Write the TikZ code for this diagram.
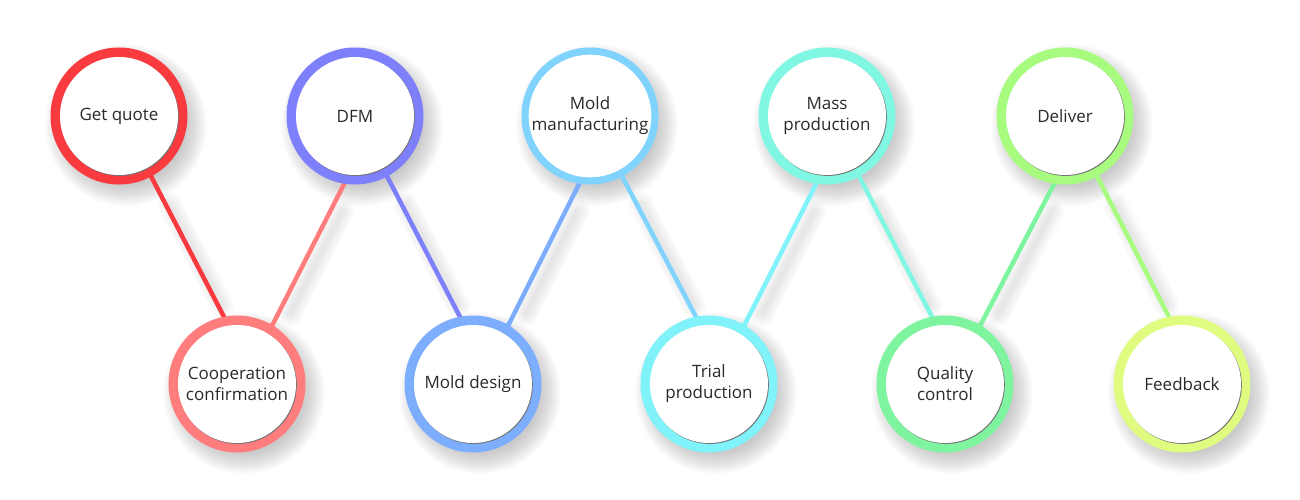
\documentclass[tikz,border=0pt]{standalone}
\usepackage{fontspec}
\setmainfont{Open Sans}
\usetikzlibrary{calc}
\pgfdeclarelayer{shadow}
\pgfdeclarelayer{lines}
\pgfsetlayers{shadow,lines,main}
\definecolor{cA}{HTML}{F93A3F}
\definecolor{cB}{HTML}{FF7D7D}
\definecolor{cC}{HTML}{7E7FFB}
\definecolor{cD}{HTML}{7DAEFD}
\definecolor{cE}{HTML}{7FD3FD}
\definecolor{cF}{HTML}{7FF2FA}
\definecolor{cG}{HTML}{7FF7E3}
\definecolor{cH}{HTML}{7FF49F}
\definecolor{cI}{HTML}{A7FB7F}
\definecolor{cJ}{HTML}{DFFC80}
\definecolor{txt}{HTML}{2A2A2A}
\tikzset{
  ring/.style={circle, minimum size=137pt, inner sep=0pt, outer sep=0pt, fill=#1},
  face/.style={circle, minimum size=118pt, inner sep=0pt, fill=white, align=center,
    text=txt, font=\fontsize{17}{21}\selectfont},
  rim/.style={fill=black!55},
  conn/.style={line width=4.5pt, draw=#1, shorten <=-5pt, shorten >=-5pt},
  connshadow/.style={draw=black, opacity=0.011, line cap=round,
    shorten <=22pt, shorten >=22pt},
}
\newcommand{\stepat}[4]{%
  \node[ring=#3] (#1) at #2 {};
  \fill[rim] ([shift={(0.8,0.9)}]#1.center) circle (59);
  \node[face] (#1f) at (#1.center) {#4};
}
% flare where an upward line leaves a bottom circle
\newcommand{\flare}[3]{%
  \fill[#3] (#1.68) .. controls (#1.59) .. ($(#1.59)!11pt!(#2.-99)$)
            .. controls (#1.59) .. (#1.50) -- cycle;
}
\begin{document}
\begin{tikzpicture}[x=1pt,y=-1pt]
\useasboundingbox (0,0) rectangle (1300,500);
\stepat{n1}{(119,116)}{cA}{Get quote}
\stepat{n2}{(237,384)}{cB}{Cooperation\\confirmation}
\stepat{n3}{(355,116)}{cC}{DFM}
\stepat{n4}{(473,384)}{cD}{Mold design}
\stepat{n5}{(590,116)}{cE}{Mold\\manufacturing}
\stepat{n6}{(709,384)}{cF}{Trial\\production}
\stepat{n7}{(827,116)}{cG}{Mass\\production}
\stepat{n8}{(945,384)}{cH}{Quality\\control}
\stepat{n9}{(1065,116)}{cI}{Deliver}
\stepat{n10}{(1182,384)}{cJ}{Feedback}
\begin{pgfonlayer}{shadow}
  \foreach \n in {n1,n2,n3,n4,n5,n6,n7,n8,n9,n10}{
    \foreach \k in {0,...,14}{
      \fill[black, opacity=0.014] ([shift={(7,9)}]\n.center) circle ({60+1.5*\k});
    }
  }
  \foreach \a/\b in {n1.-62/n2.101, n2.59/n3.-99, n3.-62/n4.101, n4.59/n5.-99,
                     n5.-62/n6.101, n6.59/n7.-99, n7.-62/n8.101, n8.59/n9.-99,
                     n9.-62/n10.101}{
    \foreach \k in {0,...,7}{
      \draw[connshadow, line width={4+3*\k}] ([shift={(8,8)}]\a) -- ([shift={(8,8)}]\b);
    }
  }
\end{pgfonlayer}
\begin{pgfonlayer}{lines}
  \draw[conn=cA] (n1.-62) -- (n2.101);
  \draw[conn=cB] (n2.59) -- (n3.-99);
  \draw[conn=cC] (n3.-62) -- (n4.101);
  \draw[conn=cD] (n4.59) -- (n5.-99);
  \draw[conn=cE] (n5.-62) -- (n6.101);
  \draw[conn=cF] (n6.59) -- (n7.-99);
  \draw[conn=cG] (n7.-62) -- (n8.101);
  \draw[conn=cH] (n8.59) -- (n9.-99);
  \draw[conn=cI] (n9.-62) -- (n10.101);
\end{pgfonlayer}
\flare{n2}{n3}{cB}
\flare{n4}{n5}{cD}
\flare{n6}{n7}{cF}
\flare{n8}{n9}{cH}
\end{tikzpicture}
\end{document}
